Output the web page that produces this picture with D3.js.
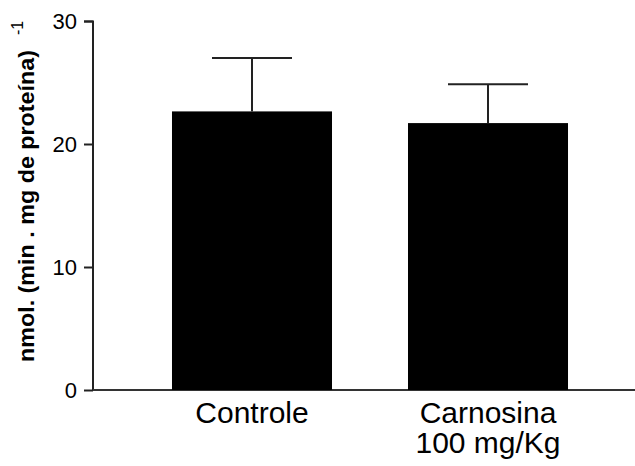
<!DOCTYPE html>
<html>
<head>
<meta charset="utf-8">
<script src="https://cdn.jsdelivr.net/npm/d3@7"></script>
<style>
body { margin: 0; background: #fff; }
text { font-family: "Liberation Sans", Arial, sans-serif; }
</style>
</head>
<body>
<svg id="chart" width="635" height="466"></svg>
<script>
// data
var groups = ["Controle", "Carnosina"]
var groupLines = [["Controle"], ["Carnosina", "100 mg/Kg"]]
var means = [22.65, 21.7]
var errors = [4.35, 3.15]
var yTicks = [0, 10, 20, 30]

var margin = {left: 93, top: 21, right: 0, bottom: 76}
var width = 635 - margin.left - margin.right
var height = 466 - margin.top - margin.bottom

var svg = d3.select("#chart")
var g = svg.append("g")
    .attr("transform", "translate(" + margin.left + "," + margin.top + ")")

var yScale = d3.scaleLinear().domain([0, 30]).range([height, 0])

// band positions for the two bars
var xScale = d3.scaleBand()
    .domain(groups)
    .range([43, 511])
    .paddingInner(0.322)
    .paddingOuter(0.1525)

// y axis
var yAxis = g.append("g")
    .call(d3.axisLeft(yScale).tickValues(yTicks).tickSize(9).tickPadding(7))
yAxis.select(".domain").attr("stroke", "#222").attr("stroke-width", 2).attr("d", "M-9,0.5H0V" + height)
yAxis.selectAll(".tick line").attr("stroke", "#222").attr("stroke-width", 2)
yAxis.selectAll(".tick text").style("font-size", "22px").attr("fill", "#000")

// x axis line
g.append("line")
    .attr("x1", 0).attr("x2", width)
    .attr("y1", height).attr("y2", height)
    .attr("stroke", "#333").attr("stroke-width", 2)

// bars
g.selectAll(".bar")
    .data(means)
    .enter().append("rect")
    .attr("x", function (d, i) { return xScale(groups[i]) })
    .attr("y", function (d) { return yScale(d) })
    .attr("width", xScale.bandwidth())
    .attr("height", function (d) { return height - yScale(d) })
    .attr("fill", "#000")

// error bars (upper only)
g.selectAll(".errv")
    .data(means)
    .enter().append("line")
    .attr("x1", function (d, i) { return xScale(groups[i]) + xScale.bandwidth() / 2 })
    .attr("x2", function (d, i) { return xScale(groups[i]) + xScale.bandwidth() / 2 })
    .attr("y1", function (d) { return yScale(d) })
    .attr("y2", function (d, i) { return yScale(d + errors[i]) })
    .attr("stroke", "#222").attr("stroke-width", 2)

g.selectAll(".errcap")
    .data(means)
    .enter().append("line")
    .attr("x1", function (d, i) { return xScale(groups[i]) + xScale.bandwidth() / 4 })
    .attr("x2", function (d, i) { return xScale(groups[i]) + xScale.bandwidth() * 3 / 4 })
    .attr("y1", function (d, i) { return yScale(d + errors[i]) })
    .attr("y2", function (d, i) { return yScale(d + errors[i]) })
    .attr("stroke", "#222").attr("stroke-width", 2)

// category labels
groupLines.forEach(function (lines, i) {
    var cx = xScale(groups[i]) + xScale.bandwidth() / 2
    var t = g.append("text")
        .attr("x", cx)
        .attr("y", height + 33)
        .attr("text-anchor", "middle")
        .style("font-size", "30px")
    lines.forEach(function (l, j) {
        t.append("tspan")
            .attr("x", cx)
            .attr("dy", j == 0 ? 0 : 30)
            .text(l)
    })
})

// y axis title
svg.append("text")
    .attr("transform", "translate(34,206) rotate(-90)")
    .attr("text-anchor", "middle")
    .attr("textLength", 312)
    .attr("lengthAdjust", "spacingAndGlyphs")
    .style("font-size", "22px")
    .style("font-weight", "bold")
    .text("nmol. (min . mg de proteína)")

svg.append("text")
    .attr("transform", "translate(23,35) rotate(-90)")
    .style("font-size", "16px")
    .text("-1")
</script>
</body>
</html>
